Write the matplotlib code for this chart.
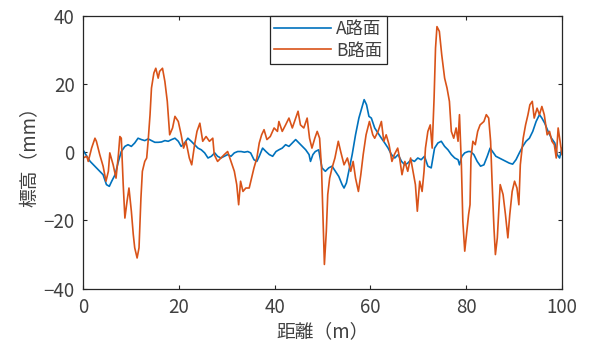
import matplotlib
matplotlib.use("Agg")
import matplotlib.pyplot as plt

plt.rcParams['font.family'] = ['Noto Sans CJK JP', 'DejaVu Sans']

# Road A profile (distance m, elevation mm)
a_x = [0, 0.8, 1.5, 2.2, 2.8, 3.5, 4.2, 4.9, 5.5, 6.0, 6.7, 7.4, 8.0, 8.75, 9.4, 10.1, 10.8,
       11.5, 12.2, 12.9, 13.6, 14.3, 15.0, 15.7, 16.4, 17.1, 17.8, 18.5, 19.2, 19.9,
       20.5, 21.2, 21.9, 22.6, 23.3, 24.0, 24.7, 25.4, 26.1, 26.8, 27.5, 28.1, 28.8, 29.5,
       30.2, 30.9, 31.6, 32.3, 33.0, 33.7, 34.4, 35.0, 35.7, 36.3, 36.8, 37.5, 38.2, 38.9,
       39.6, 40.3, 40.9, 41.6, 42.3, 43.0, 43.7, 44.4, 45.1, 45.8, 46.5, 47.2, 47.5, 48.0,
       48.5, 49.2, 49.9, 50.6, 51.3, 52.0, 52.7, 53.4, 54.1, 54.5, 55.0, 55.5, 56.2, 56.9,
       57.6, 58.2, 58.7, 59.2, 59.7, 60.2, 60.9, 61.6, 62.3, 63.0, 63.7, 64.4, 65.1, 65.8,
       66.5, 67.2, 67.8, 68.5, 69.2, 69.9, 70.6, 71.3, 72.0, 72.7, 73.4, 74.1, 74.8, 75.5,
       76.2, 76.9, 77.6, 78.3, 78.6, 79.1, 79.7, 80.4, 80.9, 81.6, 82.3, 83.0, 83.7, 84.4,
       85.0, 85.5, 86.2, 86.9, 87.6, 88.3, 89.0, 89.7, 90.4, 91.1, 91.8, 92.5, 93.2, 93.9,
       94.6, 95.3, 95.8, 96.4, 97.1, 97.8, 98.5, 99.0, 99.5, 100]
a_y = [0.7, -1.2, -2.7, -3.7, -4.6, -5.6, -6.6, -9.5, -10.0, -8.5, -6.6, -2.7, 0.2, 1.7, 2.2,
       1.7, 2.7, 4.1, 3.7, 3.4, 3.9, 3.4, 2.9, 2.9, 3.0, 3.4, 3.2, 3.7, 4.1, 3.2,
       1.7, 2.7, 4.1, 3.2, 2.2, 1.2, 0.7, -0.2, -1.7, -1.2, -0.2, -1.2, -1.7, -1.2,
       -0.7, -1.2, -0.2, 0.2, 0.2, 0.0, 0.2, -0.2, -2.2, -2.7, -1.2, 1.2, 0.2, -0.7,
       -1.2, 0.2, 0.7, 1.2, 2.2, 1.7, 2.7, 3.7, 2.7, 1.7, 0.7, -0.7, -2.7, -0.7,
       0.2, 0.7, -4.6, -5.6, -4.6, -4.1, -5.6, -7.1, -9.5, -10.5, -9.0, -5.6, -0.7, 5.1,
       10.0, 12.9, 15.4, 13.9, 10.5, 10.0, 7.1, 5.6, 4.1, 2.7, 1.2, -0.7, -1.7, -0.7,
       -2.7, -3.7, -3.2, -2.2, -2.7, -1.7, -2.2, -1.2, -4.1, -4.6, 1.2, 2.7, 3.2, 1.7,
       0.7, -0.7, -1.7, -2.2, -3.7, -1.2, -0.2, 0.2, 0.2, -0.7, -2.7, -4.1, -3.7, -1.2,
       1.2, 0.2, -1.2, -1.7, -2.2, -2.7, -3.2, -3.5, -2.2, -0.2, 1.7, 3.2, 4.1, 6.1,
       9.0, 11.0, 10.0, 8.5, 6.1, 4.1, 2.7, -0.7, -1.7, 1.2]

# Road B profile (distance m, elevation mm)
b_x = [0, 0.8, 1.1, 1.8, 2.5, 2.8, 3.5, 4.2, 4.8, 5.3, 5.6, 6.3, 6.9, 7.4, 7.7, 8.0, 8.4,
       8.75, 9.2, 9.6, 10.1, 10.5, 10.8, 11.3, 11.7, 12.1, 12.4, 12.9, 13.3, 13.6, 14.0,
       14.3, 14.8, 15.2, 15.7, 16.0, 16.6, 17.1, 17.6, 18.1, 18.7, 19.2, 19.9,
       20.5, 21.0, 21.5, 22.2, 22.7, 23.3, 23.8, 24.4, 25.0, 25.7, 26.4, 27.1, 27.4, 28.1,
       28.8, 29.5, 30.2, 30.9, 31.6, 32.1, 32.5, 32.9, 33.4, 34.0, 34.7, 35.2, 35.7, 36.3,
       36.8, 37.3, 37.8, 38.4, 39.1, 39.9, 40.6, 40.9, 41.6, 42.3, 43.0, 43.7, 44.4, 44.9,
       45.4, 46.1, 46.8, 47.3, 47.8, 48.4, 48.9, 49.4, 49.8, 50.1, 50.4, 50.8, 51.1, 51.5,
       52.0, 52.6, 53.3, 53.8, 54.5, 55.2, 55.9, 56.4, 56.9, 57.5, 58.0, 58.5, 59.1, 59.8,
       60.5, 60.9, 61.6, 62.3, 62.8, 63.3, 63.9, 64.5, 65.0, 65.7, 66.1, 66.6, 67.2, 67.8,
       68.4, 68.9, 69.4, 69.8, 70.3, 70.8, 71.2, 71.5, 72.0, 72.5, 72.9, 73.3, 73.6, 73.9,
       74.4, 74.9, 75.5, 76.0, 76.5, 76.9, 77.4, 77.9, 78.3, 78.6, 79.0, 79.3, 79.7, 80.2,
       80.5, 80.8, 81.0, 81.4, 81.9, 82.4, 82.9, 83.7, 84.2, 84.7, 85.1, 85.4, 85.8, 86.1,
       86.5, 86.8, 87.1, 87.7, 88.2, 88.7, 89.1, 89.6, 90.1, 90.6, 91.0, 91.3, 91.9, 92.4,
       92.9, 93.3, 93.8, 94.2, 94.8, 95.3, 95.8, 96.3, 96.9, 97.4, 97.9, 98.4, 98.8, 99.2,
       99.5, 100]
b_y = [-1.7, -1.2, -2.7, 1.2, 4.1, 3.2, -0.7, -4.1, -8.5, -5.6, -0.2, -3.7, -7.6, -0.7, 4.6,
       4.1, -9.5, -19.3, -14.4, -10.5, -17.3, -24.1, -28.0, -31.0, -28.0, -13.4, -5.6, -2.7,
       -1.7, 3.2, 11.0, 18.8, 23.2, 24.6, 21.7, 23.7, 24.6, 20.7, 14.9, 5.1, 7.1, 10.5, 9.0,
       5.1, 1.2, 3.2, -1.7, -3.7, 2.2, 6.1, 8.5, 3.2, 4.6, 3.2, 4.1, -0.7, -2.7,
       -1.7, -0.7, 0.2, -2.7, -5.6, -9.5, -15.4, -8.5, -11.5, -10.5, -10.5, -7.6, -4.6, -1.7,
       2.7, 5.1, 6.6, 3.7, 4.6, 7.1, 6.1, 9.0, 6.1, 8.0, 10.0, 7.1, 10.0, 12.0,
       8.0, 7.1, 10.0, 4.1, 1.2, 4.1, 6.1, 4.1, -4.6, -18.3, -32.9, -23.2, -12.4, -7.6,
       -4.6, -1.7, 3.2, 0.2, -3.7, -1.7, -5.6, -2.7, -7.6, -11.5, -6.6, -0.7, 5.1, 9.0,
       5.1, 4.1, 6.1, 9.0, 3.2, 5.1, 2.2, -2.7, -0.7, 1.2, -1.7, -6.6, -2.7, -5.6,
       -1.7, -5.6, -9.5, -17.3, -8.5, -11.5, -5.6, 1.2, 6.1, 8.0, 1.2, 15.9, 30.5, 36.8,
       35.4, 28.5, 21.7, 18.8, 14.9, 6.1, 4.1, 7.1, 3.2, 11.0, -3.7, -20.2, -29.0, -22.2,
       -18.3, -15.4, -1.7, 3.2, 2.2, 6.1, 8.0, 9.0, 11.0, 10.0, 3.2, -8.5, -22.2, -30.0,
       -25.1, -17.3, -9.5, -12.4, -18.3, -25.1, -18.3, -11.5, -8.5, -10.5, -15.4, -3.7, 4.1, 8.0,
       11.0, 13.9, 14.9, 10.0, 12.9, 11.0, 13.4, 11.0, 5.1, 6.1, 3.2, 2.2, -1.7, 7.1,
       4.1, -0.7]

x_ticks = [0, 20, 40, 60, 80, 100]
y_ticks = [-40, -20, 0, 20, 40]
series_labels = ['A路面', 'B路面']
x_label = '距離（m）'
y_label = '標高（mm）'

txt = '#404040'
fig = plt.figure(figsize=(5.91, 3.49), dpi=100)
ax = fig.add_axes([0.1404, 0.1728, 0.8105, 0.7822])

ax.plot(a_x, a_y, color='#0072BD', lw=1.2, label=series_labels[0])
ax.plot(b_x, b_y, color='#D95319', lw=1.2, label=series_labels[1])

ax.set_xlim(0, 100)
ax.set_ylim(-40, 40)
ax.set_xticks(x_ticks)
ax.set_yticks(y_ticks)
ax.tick_params(direction='in', top=True, right=True, length=3, width=0.8,
               labelsize=13.5, colors='#262626', labelcolor=txt, pad=6)
for s in ax.spines.values():
    s.set_color('#262626')
    s.set_linewidth(0.9)

ax.set_xlabel(x_label, fontsize=13.5, color=txt, labelpad=2)
ax.set_ylabel(y_label, fontsize=13.5, color=txt, labelpad=2)

leg = ax.legend(loc='upper center', bbox_to_anchor=(0.512, 1.0), borderaxespad=0,
                fancybox=False, framealpha=1, edgecolor='#262626', fontsize=12.5,
                handlelength=3.3, handletextpad=0.3, borderpad=0.25, labelspacing=0.2)
leg.get_frame().set_linewidth(0.9)
for t in leg.get_texts():
    t.set_color(txt)

fig.savefig('out.png', dpi=100)
